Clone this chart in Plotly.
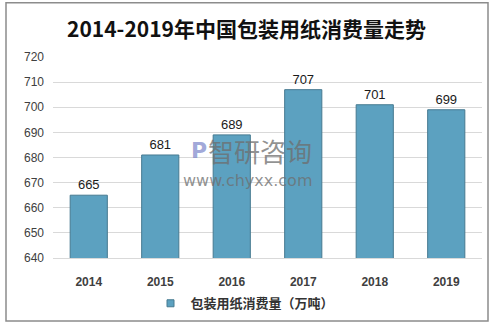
import plotly.graph_objects as go

years = ["2014", "2015", "2016", "2017", "2018", "2019"]
values = [665, 681, 689, 707, 701, 699]
series_name = "包装用纸消费量（万吨）"
title_text = "2014-2019年中国包装用纸消费量走势"
y_ticks = [640, 650, 660, 670, 680, 690, 700, 710, 720]

bar_color = "#5ca1c0"
bar_edge = "#467a90"

fig = go.Figure()
fig.add_trace(go.Bar(
    x=years, y=values, name=series_name, showlegend=False,
    marker=dict(color=bar_color, line=dict(color=bar_edge, width=1)),
    text=[str(v) for v in values], textposition="outside",
    textfont=dict(family="Liberation Sans, Arial", size=13, color="#1a1a1a"),
    cliponaxis=False,
))
# legend entry with small square symbol
fig.add_trace(go.Scatter(
    x=[None], y=[None], mode="markers", name=series_name,
    marker=dict(symbol="square", size=7, color=bar_color, line=dict(color=bar_edge, width=1)),
))

# plot area in px: x 53..482, y 57..261
def px_x(p):
    return (p - 53) / 429
def px_y(p):
    return (261 - p) / 204

fig.add_shape(type="rect", xref="paper", yref="paper",
              x0=px_x(6), x1=px_x(488), y0=px_y(325), y1=px_y(2),
              line=dict(color="#8c8c8c", width=1.5), layer="below")

# watermark
fig.add_annotation(xref="paper", yref="paper", x=px_x(260), y=px_y(152),
                   text="智研咨询", showarrow=False,
                   font=dict(family="Noto Sans CJK SC", size=26, color="rgba(110,110,110,0.75)"))
fig.add_annotation(xref="paper", yref="paper", x=px_x(247), y=px_y(182),
                   text="www.chyxx.com", showarrow=False,
                   font=dict(family="DejaVu Sans", size=16, color="rgba(110,110,110,0.75)"))
fig.add_annotation(xref="paper", yref="paper", x=px_x(189), y=px_y(152),
                   text="<b>P</b>", showarrow=False,
                   font=dict(family="DejaVu Sans", size=22, color="rgba(120,130,200,0.7)"))

fig.update_layout(
    width=493, height=329,
    margin=dict(l=53, r=11, t=57, b=68),
    paper_bgcolor="white", plot_bgcolor="white",
    title=dict(text="<b>" + title_text + "</b>", x=0.5, xanchor="center", y=1 - 30/329, yanchor="middle",
               font=dict(family="Noto Sans CJK SC", size=21, color="#111111")),
    bargap=0.48,
    showlegend=True,
    legend=dict(orientation="h", x=px_x(245), xanchor="center", y=px_y(307), yanchor="middle",
                font=dict(family="Noto Sans CJK SC", size=13, color="#333333", weight="bold"),
                itemwidth=30),
    xaxis=dict(tickfont=dict(family="Liberation Sans, Arial", size=12, color="#404040", weight="bold"),
               showline=True, linecolor="#d9d9d9", ticks="", showgrid=False, ticklabelstandoff=13),
    yaxis=dict(range=[640, 720], tickvals=y_ticks,
               tickfont=dict(family="Liberation Sans, Arial", size=12, color="#404040"),
               showgrid=True, gridcolor="#d9d9d9", gridwidth=1, zeroline=False,
               showline=False, ticks="", ticklabelstandoff=8),
)
fig.write_html("out.html")
